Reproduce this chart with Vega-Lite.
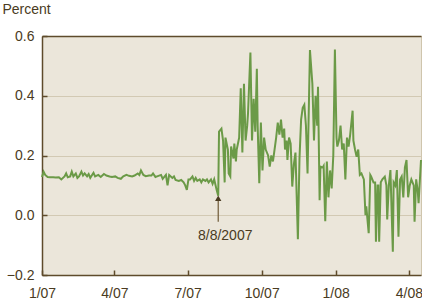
{
  "$schema": "https://vega.github.io/schema/vega-lite/v6.json",
  "width": 379,
  "height": 239,
  "autosize": "none",
  "padding": {"left": 42, "top": 36, "right": 1, "bottom": 30},
  "background": "white",
  "config": {
    "view": {"fill": "#ebe6da", "stroke": "#cfc5ad", "strokeWidth": 1},
    "font": "Liberation Sans"
  },
  "encoding": {
    "x": {
      "field": "d", "type": "temporal",
      "scale": {"type": "utc", "domain": [{"year": 2007, "month": 1, "date": 1, "utc": true}, {"year": 2008, "month": 4, "date": 16, "utc": true}]},
      "axis": {
        "title": null,
        "labelExpr": "utcFormat(datum.value, '%-m/%y')",
        "values": [
          {"year": 2007, "month": 1, "date": 1, "utc": true},
          {"year": 2007, "month": 4, "date": 1, "utc": true},
          {"year": 2007, "month": 7, "date": 1, "utc": true},
          {"year": 2007, "month": 10, "date": 1, "utc": true},
          {"year": 2008, "month": 1, "date": 1, "utc": true},
          {"year": 2008, "month": 4, "date": 1, "utc": true}
        ],
        "grid": false,
        "domainColor": "#5e4b2b", "domainWidth": 1.5,
        "tickColor": "#5e4b2b", "tickSize": -5, "tickWidth": 1.5,
        "labelColor": "#4a3b22", "labelFontSize": 14, "labelFont": "Liberation Sans",
        "labelPadding": 16, "labelFlush": false, "labelOverlap": false
      }
    },
    "y": {
      "field": "v", "type": "quantitative",
      "scale": {"domain": [-0.2, 0.6], "nice": false, "zero": false},
      "axis": {
        "title": "Percent",
        "titleAngle": 0, "titleX": -40, "titleY": -23, "titleAlign": "left", "titleBaseline": "alphabetic",
        "titleFontSize": 14, "titleFontWeight": "normal", "titleColor": "#4a3b22", "titleFont": "Liberation Sans",
        "values": [-0.2, 0, 0.2, 0.4, 0.6],
        "format": ".1f",
        "grid": true,
        "gridColor": {"condition": {"test": "datum.value >= 0.59", "value": "#5e4b2b"}, "value": "#d2c9b3"},
        "gridWidth": {"condition": {"test": "datum.value >= 0.59", "value": 1.5}, "value": 1},
        "domainColor": "#5e4b2b", "domainWidth": 1.5,
        "tickColor": "#5e4b2b", "tickSize": -5, "tickWidth": 1.5,
        "labelColor": "#4a3b22", "labelFontSize": 14, "labelFont": "Liberation Sans",
        "labelPadding": 13
      }
    }
  },
  "layer": [
    {
      "data": {"values": [
        {"d":"2007-01-01","v":0.128},{"d":"2007-01-03","v":0.146},{"d":"2007-01-05","v":0.135},{"d":"2007-01-08","v":0.128},
        {"d":"2007-01-11","v":0.127},{"d":"2007-01-15","v":0.127},{"d":"2007-01-18","v":0.126},{"d":"2007-01-22","v":0.127},
        {"d":"2007-01-25","v":0.120},{"d":"2007-01-29","v":0.130},{"d":"2007-01-31","v":0.140},{"d":"2007-02-02","v":0.127},
        {"d":"2007-02-05","v":0.130},{"d":"2007-02-07","v":0.146},{"d":"2007-02-09","v":0.130},{"d":"2007-02-12","v":0.140},
        {"d":"2007-02-14","v":0.125},{"d":"2007-02-16","v":0.130},{"d":"2007-02-19","v":0.146},{"d":"2007-02-21","v":0.133},
        {"d":"2007-02-23","v":0.140},{"d":"2007-02-26","v":0.130},{"d":"2007-02-28","v":0.138},{"d":"2007-03-02","v":0.125},
        {"d":"2007-03-06","v":0.142},{"d":"2007-03-08","v":0.130},{"d":"2007-03-12","v":0.135},{"d":"2007-03-15","v":0.128},
        {"d":"2007-03-19","v":0.138},{"d":"2007-03-22","v":0.133},{"d":"2007-03-26","v":0.130},{"d":"2007-03-29","v":0.128},
        {"d":"2007-04-02","v":0.130},{"d":"2007-04-05","v":0.125},{"d":"2007-04-09","v":0.122},{"d":"2007-04-12","v":0.130},
        {"d":"2007-04-16","v":0.135},{"d":"2007-04-19","v":0.132},{"d":"2007-04-23","v":0.130},{"d":"2007-04-26","v":0.133},
        {"d":"2007-04-30","v":0.140},{"d":"2007-05-02","v":0.135},{"d":"2007-05-04","v":0.150},{"d":"2007-05-07","v":0.135},
        {"d":"2007-05-10","v":0.131},{"d":"2007-05-14","v":0.133},{"d":"2007-05-17","v":0.133},{"d":"2007-05-19","v":0.140},
        {"d":"2007-05-22","v":0.128},{"d":"2007-05-24","v":0.130},{"d":"2007-05-29","v":0.135},{"d":"2007-05-31","v":0.122},
        {"d":"2007-06-04","v":0.135},{"d":"2007-06-06","v":0.100},{"d":"2007-06-08","v":0.135},{"d":"2007-06-12","v":0.125},
        {"d":"2007-06-14","v":0.130},{"d":"2007-06-16","v":0.118},{"d":"2007-06-20","v":0.115},{"d":"2007-06-23","v":0.118},
        {"d":"2007-06-26","v":0.110},{"d":"2007-06-28","v":0.100},{"d":"2007-06-30","v":0.085},{"d":"2007-07-02","v":0.120},
        {"d":"2007-07-04","v":0.120},{"d":"2007-07-07","v":0.130},{"d":"2007-07-09","v":0.115},{"d":"2007-07-11","v":0.125},
        {"d":"2007-07-13","v":0.115},{"d":"2007-07-16","v":0.120},{"d":"2007-07-18","v":0.110},{"d":"2007-07-20","v":0.120},
        {"d":"2007-07-23","v":0.115},{"d":"2007-07-25","v":0.120},{"d":"2007-07-27","v":0.110},{"d":"2007-07-30","v":0.120},
        {"d":"2007-08-01","v":0.105},{"d":"2007-08-03","v":0.120},{"d":"2007-08-06","v":0.085},{"d":"2007-08-08","v":0.065},
        {"d":"2007-08-09","v":0.28},{"d":"2007-08-12","v":0.29},{"d":"2007-08-14","v":0.25},{"d":"2007-08-16","v":0.11},
        {"d":"2007-08-17","v":0.26},{"d":"2007-08-20","v":0.22},{"d":"2007-08-21","v":0.14},{"d":"2007-08-23","v":0.13},
        {"d":"2007-08-24","v":0.23},{"d":"2007-08-27","v":0.19},{"d":"2007-08-28","v":0.24},{"d":"2007-08-30","v":0.18},
        {"d":"2007-08-31","v":0.22},{"d":"2007-09-03","v":0.26},{"d":"2007-09-05","v":0.425},{"d":"2007-09-07","v":0.21},
        {"d":"2007-09-09","v":0.44},{"d":"2007-09-11","v":0.25},{"d":"2007-09-13","v":0.30},{"d":"2007-09-14","v":0.34},
        {"d":"2007-09-17","v":0.545},{"d":"2007-09-19","v":0.25},{"d":"2007-09-21","v":0.39},{"d":"2007-09-23","v":0.28},
        {"d":"2007-09-25","v":0.49},{"d":"2007-09-26","v":0.30},{"d":"2007-09-28","v":0.107},{"d":"2007-09-30","v":0.31},
        {"d":"2007-10-02","v":0.15},{"d":"2007-10-04","v":0.26},{"d":"2007-10-06","v":0.22},{"d":"2007-10-09","v":0.20},
        {"d":"2007-10-11","v":0.163},{"d":"2007-10-13","v":0.20},{"d":"2007-10-15","v":0.18},{"d":"2007-10-17","v":0.22},
        {"d":"2007-10-19","v":0.26},{"d":"2007-10-21","v":0.31},{"d":"2007-10-23","v":0.27},{"d":"2007-10-25","v":0.32},
        {"d":"2007-10-27","v":0.26},{"d":"2007-10-29","v":0.29},{"d":"2007-10-30","v":0.22},{"d":"2007-11-01","v":0.25},
        {"d":"2007-11-02","v":0.185},{"d":"2007-11-04","v":0.26},{"d":"2007-11-06","v":0.24},{"d":"2007-11-08","v":0.096},
        {"d":"2007-11-10","v":0.17},{"d":"2007-11-12","v":0.21},{"d":"2007-11-15","v":-0.08},{"d":"2007-11-17","v":0.19},
        {"d":"2007-11-19","v":0.32},{"d":"2007-11-21","v":0.36},{"d":"2007-11-23","v":0.37},{"d":"2007-11-25","v":0.30},
        {"d":"2007-11-27","v":0.14},{"d":"2007-11-30","v":0.553},{"d":"2007-12-03","v":0.44},{"d":"2007-12-05","v":0.25},
        {"d":"2007-12-07","v":0.40},{"d":"2007-12-09","v":0.30},{"d":"2007-12-10","v":0.43},{"d":"2007-12-12","v":0.05},
        {"d":"2007-12-13","v":0.163},{"d":"2007-12-16","v":0.16},{"d":"2007-12-17","v":0.165},{"d":"2007-12-19","v":-0.02},
        {"d":"2007-12-21","v":0.18},{"d":"2007-12-23","v":0.06},{"d":"2007-12-25","v":0.15},{"d":"2007-12-27","v":0.09},
        {"d":"2007-12-29","v":0.20},{"d":"2007-12-31","v":0.555},{"d":"2008-01-02","v":0.26},{"d":"2008-01-03","v":0.23},
        {"d":"2008-01-05","v":0.25},{"d":"2008-01-07","v":0.30},{"d":"2008-01-09","v":0.22},{"d":"2008-01-11","v":0.24},
        {"d":"2008-01-13","v":0.12},{"d":"2008-01-15","v":0.26},{"d":"2008-01-17","v":0.23},{"d":"2008-01-19","v":0.27},
        {"d":"2008-01-22","v":0.35},{"d":"2008-01-23","v":0.25},{"d":"2008-01-25","v":0.22},{"d":"2008-01-27","v":0.196},
        {"d":"2008-01-29","v":0.22},{"d":"2008-01-31","v":0.135},{"d":"2008-02-02","v":0.14},{"d":"2008-02-05","v":0.12},
        {"d":"2008-02-07","v":0.0},{"d":"2008-02-08","v":0.03},{"d":"2008-02-11","v":-0.06},{"d":"2008-02-13","v":0.135},
        {"d":"2008-02-14","v":0.13},{"d":"2008-02-17","v":0.11},{"d":"2008-02-19","v":0.11},{"d":"2008-02-20","v":-0.089},
        {"d":"2008-02-22","v":0.10},{"d":"2008-02-23","v":0.10},{"d":"2008-02-24","v":-0.089},{"d":"2008-02-26","v":0.11},
        {"d":"2008-02-28","v":0.12},{"d":"2008-03-02","v":0.129},{"d":"2008-03-04","v":0.10},{"d":"2008-03-05","v":-0.014},
        {"d":"2008-03-07","v":0.10},{"d":"2008-03-09","v":0.151},{"d":"2008-03-12","v":-0.122},{"d":"2008-03-13","v":0.11},
        {"d":"2008-03-15","v":0.10},{"d":"2008-03-17","v":0.151},{"d":"2008-03-19","v":-0.072},{"d":"2008-03-21","v":0.12},
        {"d":"2008-03-23","v":0.13},{"d":"2008-03-25","v":0.06},{"d":"2008-03-27","v":0.16},{"d":"2008-03-29","v":0.185},
        {"d":"2008-03-31","v":0.06},{"d":"2008-04-02","v":0.10},{"d":"2008-04-04","v":0.12},{"d":"2008-04-07","v":0.10},
        {"d":"2008-04-08","v":-0.022},{"d":"2008-04-10","v":0.12},{"d":"2008-04-12","v":0.08},{"d":"2008-04-13","v":0.04},
        {"d":"2008-04-16","v":0.185}
      ]},
      "mark": {"type": "line", "color": "#6b9a47", "strokeWidth": 2, "interpolate": "linear"}
    },
    {
      "data": {"values": [{"d": "2007-08-08", "v": -0.083, "lo": -0.022, "hi": 0.05, "tip": 0.057, "label": "8/8/2007"}]},
      "mark": {"type": "rule", "color": "#6e5a36", "strokeWidth": 1.2},
      "encoding": {"y": {"field": "lo", "type": "quantitative"}, "y2": {"field": "hi"}}
    },
    {
      "data": {"values": [{"d": "2007-08-08", "v": -0.083, "lo": -0.022, "hi": 0.05, "tip": 0.057, "label": "8/8/2007"}]},
      "mark": {"type": "point", "shape": "triangle-up", "filled": true, "color": "#4a3b22", "size": 40, "opacity": 1},
      "encoding": {"y": {"field": "tip", "type": "quantitative"}}
    },
    {
      "data": {"values": [{"d": "2007-08-08", "v": -0.083, "lo": -0.022, "hi": 0.05, "tip": 0.057, "label": "8/8/2007"}]},
      "mark": {"type": "text", "color": "#4a3b22", "fontSize": 14, "font": "Liberation Sans", "align": "center", "baseline": "alphabetic", "dx": 7},
      "encoding": {"text": {"field": "label"}}
    }
  ]
}
